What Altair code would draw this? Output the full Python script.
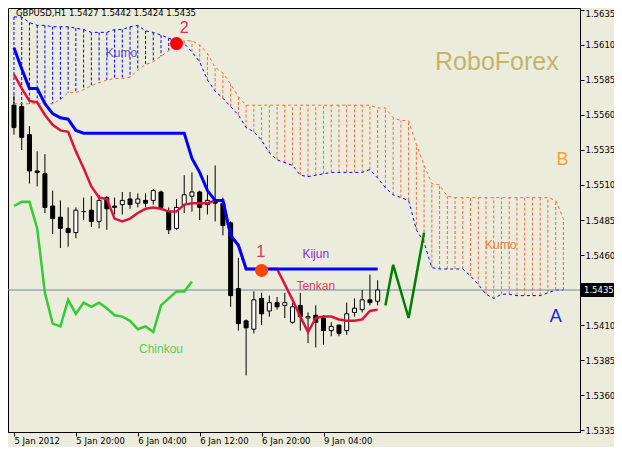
import altair as alt
import pandas as pd

BG = "#ECECDD"
FONT = "Liberation Sans"
AXFONT = "DejaVu Sans"

# ---------------- data ----------------
bars = list(range(48))
c_open = [1.5567, 1.5566, 1.5546, 1.5520, 1.5518, 1.5495, 1.5487, 1.5479, 1.5476, 1.5491,
          1.5492, 1.5484, 1.5501, 1.5495, 1.5496, 1.5500, 1.5497, 1.5499, 1.5499, 1.5505,
          1.5491, 1.5479, 1.5496, 1.5502, 1.5505, 1.5496, 1.5499, 1.5497, 1.5483, 1.5436,
          1.5413, 1.5407, 1.5429, 1.5420, 1.5426, 1.5424, 1.5412, 1.5424, 1.5415, 1.5417,
          1.5415, 1.5406, 1.5410, 1.5406, 1.5419, 1.5421, 1.5428, 1.5427]
c_high = [1.5574, 1.5568, 1.5552, 1.5534, 1.5532, 1.5506, 1.5499, 1.5494, 1.5494, 1.5501,
          1.5502, 1.5503, 1.5502, 1.5501, 1.5505, 1.5505, 1.5504, 1.5504, 1.5507, 1.5506,
          1.5494, 1.5500, 1.5517, 1.5519, 1.5506, 1.5517, 1.5524, 1.5501, 1.5484, 1.5458,
          1.5414, 1.5434, 1.5433, 1.5431, 1.5430, 1.5433, 1.5426, 1.5433, 1.5419, 1.5424,
          1.5417, 1.5412, 1.5410, 1.5426, 1.5429, 1.5435, 1.5446, 1.5442]
c_low = [1.5546, 1.5535, 1.5511, 1.5509, 1.5490, 1.5475, 1.5465, 1.5466, 1.5472, 1.5485,
         1.5480, 1.5479, 1.5478, 1.5489, 1.5489, 1.5493, 1.5494, 1.5494, 1.5496, 1.5492,
         1.5475, 1.5478, 1.5490, 1.5491, 1.5485, 1.5489, 1.5484, 1.5474, 1.5423, 1.5406,
         1.5374, 1.5404, 1.5410, 1.5416, 1.5421, 1.5415, 1.5411, 1.5406, 1.5397, 1.5394,
         1.5396, 1.5402, 1.5402, 1.5403, 1.5416, 1.5419, 1.5424, 1.5424]
c_close = [1.5551, 1.5544, 1.5520, 1.5519, 1.5494, 1.5486, 1.5479, 1.5476, 1.5492, 1.5491,
           1.5484, 1.5499, 1.5493, 1.5494, 1.5499, 1.5496, 1.5500, 1.5497, 1.5506, 1.5494,
           1.5478, 1.5494, 1.5503, 1.5505, 1.5494, 1.5499, 1.5497, 1.5481, 1.5431, 1.5411,
           1.5408, 1.5428, 1.5418, 1.5426, 1.5423, 1.5426, 1.5423, 1.5416, 1.5416, 1.5412,
           1.5406, 1.5409, 1.5404, 1.5418, 1.5422, 1.5428, 1.5426, 1.5435]

tenkan = [1.5589, 1.5579, 1.5570, 1.5569, 1.5560, 1.5553, 1.5549, 1.5548, 1.5534, 1.5522,
          1.5509, 1.5501, 1.5500, 1.5486, 1.5484, 1.5486, 1.5490, 1.5493, 1.5494, 1.5493,
          1.5491, 1.5491, 1.5496, 1.5497, 1.5497, 1.5497, 1.5499, 1.5499, 1.5474, 1.5467,
          1.5450, 1.5450, 1.5450, 1.5450, 1.5450, 1.5439, 1.5428, 1.5416, 1.5405, 1.5415,
          1.5416, 1.5416, 1.5414, 1.5413, 1.5413, 1.5414, 1.5420, 1.5421]
kijun = [1.5608, 1.5593, 1.5579, 1.5579, 1.5568, 1.5561, 1.5558, 1.5557, 1.5549, 1.5547,
         1.5547, 1.5547, 1.5547, 1.5547, 1.5547, 1.5547, 1.5547, 1.5547, 1.5547, 1.5547,
         1.5547, 1.5547, 1.5547, 1.5529, 1.5519, 1.5506, 1.5499, 1.5499, 1.5474, 1.5467,
         1.5450, 1.5450, 1.5450, 1.5450, 1.5450, 1.5450, 1.5450, 1.5450, 1.5450, 1.5450,
         1.5450, 1.5450, 1.5450, 1.5450, 1.5450, 1.5450, 1.5450, 1.5450]
chinkou = [1.5495, 1.5498, 1.5498, 1.5479, 1.5433, 1.5411, 1.5409, 1.5428, 1.5418, 1.5426,
           1.5423, 1.5426, 1.5422, 1.5417, 1.5416, 1.5413, 1.5407, 1.5409, 1.5405, 1.5424,
           1.5429, 1.5434, 1.5434, 1.5441]
senkou_a = [1.5630, 1.5630, 1.5626, 1.5624, 1.5624, 1.5623, 1.5623, 1.5623, 1.5622, 1.5621,
            1.5619, 1.5619, 1.5619, 1.5621, 1.5621, 1.5623, 1.5624, 1.5620, 1.5619, 1.5617,
            1.5615, 1.5612, 1.5611, 1.5605, 1.5598, 1.5585, 1.5577, 1.5572, 1.5566, 1.5560,
            1.5551, 1.5548, 1.5542, 1.5533, 1.5528, 1.5526, 1.5524, 1.5517, 1.5516, 1.5517,
            1.5518, 1.5519, 1.5519, 1.5519, 1.5519, 1.5519, 1.5521, 1.5515, 1.5508, 1.5503,
            1.5501, 1.5499, 1.5478, 1.5469, 1.5451, 1.5450, 1.5450, 1.5450, 1.5450, 1.5445,
            1.5439, 1.5432, 1.5429, 1.5432, 1.5432, 1.5431, 1.5431, 1.5431, 1.5431, 1.5433,
            1.5435, 1.5435]
senkou_b = [1.5568, 1.5568, 1.5568, 1.5568, 1.5568, 1.5568, 1.5571, 1.5576, 1.5576, 1.5578,
            1.5581, 1.5583, 1.5585, 1.5586, 1.5586, 1.5587, 1.5592, 1.5596, 1.5598, 1.5602,
            1.5606, 1.5611, 1.5613, 1.5613, 1.5610, 1.5604, 1.5594, 1.5590, 1.5582, 1.5573,
            1.5567, 1.5567, 1.5567, 1.5567, 1.5567, 1.5567, 1.5567, 1.5567, 1.5567, 1.5567,
            1.5567, 1.5567, 1.5567, 1.5567, 1.5567, 1.5567, 1.5567, 1.5565, 1.5565, 1.5558,
            1.5556, 1.5556, 1.5539, 1.5524, 1.5511, 1.5510, 1.5502, 1.5501, 1.5501, 1.5501,
            1.5501, 1.5501, 1.5501, 1.5501, 1.5501, 1.5501, 1.5501, 1.5501, 1.5501, 1.5501,
            1.5499, 1.5486]

forecast_k = [48, 49, 51, 53]
forecast_p = [1.5424, 1.5453, 1.5415, 1.5476]

points_k = [32, 21]
points_p = [1.5449, 1.5611]
points_col = ["#FF4500", "#FF0000"]

price_ticks = [1.5335, 1.5360, 1.5385, 1.5410, 1.5435, 1.5460, 1.5485,
               1.5510, 1.5535, 1.5560, 1.5585, 1.5610, 1.5635]
tick_pos = [0, 8, 16, 24, 32, 40]
tick_labels = ["5 Jan 2012", "5 Jan 20:00", "6 Jan 04:00", "6 Jan 12:00",
               "6 Jan 20:00", "9 Jan 04:00"]
last_close = 1.5435

ann_text = ["Kumo", "RoboForex", "B", "Kumo", "Kijun", "Tenkan", "Chinkou", "A", "1", "2"]
ann_k = [13.9, 62.4, 70.9, 62.9, 39.0, 39.0, 19.0, 70.0, 31.9, 22.0]
ann_p = [1.5604, 1.5598, 1.5528, 1.5467, 1.5461, 1.5438, 1.5393, 1.5416, 1.5462, 1.5622]
ann_col = ["#6A4FD8", "#C3B46A", "#F5A030", "#E8803C", "#8A2BE2", "#DC3C5A",
           "#55CC55", "#1E1EE6", "#DC3C5A", "#DC2D5A"]
ann_size = [12, 25, 18, 12, 12, 12, 12, 18, 17, 16]

title_text = "GBPUSD,H1  1.5427 1.5442 1.5424 1.5435"

# ---------------- scales ----------------
W, H = 572, 424
Y_TOP = 1.56364
Y_BOT = 1.53336

# ---------------- tables ----------------
candles = pd.DataFrame({"k": bars, "open": c_open, "high": c_high,
                        "low": c_low, "close": c_close})
candles["fill"] = ["white" if c >= o else "black" for o, c in zip(c_open, c_close)]
lines = pd.DataFrame({"k": bars, "tenkan": tenkan, "kijun": kijun})
chink = pd.DataFrame({"k": list(range(len(chinkou))), "chinkou": chinkou})
cloud = pd.DataFrame({"k": list(range(len(senkou_a))), "a": senkou_a, "b": senkou_b})
cloud["col"] = ["#0000FF" if a > b else "#F26B3A" for a, b in zip(senkou_a, senkou_b)]
fc = pd.DataFrame({"k": forecast_k, "p": forecast_p})
pts = pd.DataFrame({"k": points_k, "p": points_p, "col": points_col})
ann = pd.DataFrame({"k": ann_k, "p": ann_p, "t": ann_text, "col": ann_col, "s": ann_size})
last = pd.DataFrame({"p": [last_close], "top": [last_close + 0.0005],
                     "bot": [last_close - 0.0005], "t": [f"{last_close:.4f}"]})
ttl = pd.DataFrame({"k": [-0.125], "p": [Y_TOP], "t": [title_text]})

xscale = alt.Scale(domain=[-0.125, 72.5], nice=False, zero=False)
yscale = alt.Scale(domain=[Y_BOT, Y_TOP], nice=False, zero=False)
label_expr = "[" + ",".join(f"'{t}'" for t in tick_labels) + "][round(datum.value/8)]"
xaxis = alt.Axis(values=tick_pos, labelExpr=label_expr, title=None, grid=False,
                 labelAlign="left", labelPadding=0, tickSize=4, labelFlush=False,
                 labelOverlap=False, orient="bottom")
yaxis = alt.Axis(values=price_ticks, format=".4f", title=None, grid=False,
                 orient="right", tickSize=4, labelPadding=1, labelOverlap=False,
                 labelFlush=False,
                 labelBaseline={"condition": {"test": f"datum.value > {price_ticks[-1] - 0.0001}",
                                              "value": "top"},
                                "value": "middle"})


def X(f):
    return alt.X(f"{f}:Q", scale=xscale, axis=xaxis)


def Y(f):
    return alt.Y(f"{f}:Q", scale=yscale, axis=yaxis)


hatch = alt.Chart(cloud).mark_rule(strokeWidth=1, strokeDash=[3, 2]).encode(
    x=X("k"), y=Y("a"), y2="b", color=alt.Color("col:N", scale=None))
line_a = alt.Chart(cloud).mark_line(color="#0000FF", strokeWidth=1, strokeDash=[3, 3]).encode(
    x=X("k"), y=Y("a"))
line_b = alt.Chart(cloud).mark_line(color="#F26B3A", strokeWidth=1, strokeDash=[3, 3]).encode(
    x=X("k"), y=Y("b"))
pline = alt.Chart(last).mark_rule(color="#778899", strokeWidth=1).encode(y=Y("p"))
chink_line = alt.Chart(chink).mark_line(color="#32CD32", strokeWidth=2.5).encode(
    x=X("k"), y=Y("chinkou"))
wicks = alt.Chart(candles).mark_rule(color="black", strokeWidth=1).encode(
    x=X("k"), y=Y("low"), y2="high")
bodies = alt.Chart(candles).mark_bar(size=4, stroke="black", strokeWidth=1).encode(
    x=X("k"), y=Y("open"), y2="close", fill=alt.Fill("fill:N", scale=None))
tenkan_line = alt.Chart(lines).mark_line(color="#DC143C", strokeWidth=2.5).encode(
    x=X("k"), y=Y("tenkan"))
kijun_line = alt.Chart(lines).mark_line(color="#0000FF", strokeWidth=3).encode(
    x=X("k"), y=Y("kijun"))
fc_line = alt.Chart(fc).mark_line(color="#008000", strokeWidth=2.5).encode(
    x=X("k"), y=Y("p"))
dots = alt.Chart(pts).mark_circle(size=170, opacity=1).encode(
    x=X("k"), y=Y("p"), color=alt.Color("col:N", scale=None))
texts = alt.Chart(ann).mark_text(font=FONT, align="center", baseline="middle").encode(
    x=X("k"), y=Y("p"), text="t:N", color=alt.Color("col:N", scale=None),
    size=alt.Size("s:Q", scale=None))
title = alt.Chart(ttl).mark_text(font=AXFONT, fontSize=8.5, align="left", baseline="top",
                                 dx=3, dy=1, color="black").encode(
    x=X("k"), y=Y("p"), text="t:N")
box = alt.Chart(last).mark_rect(color="black").encode(
    x=alt.value(W + 1), x2=alt.value(W + 34), y=Y("top"), y2="bot")
box_txt = alt.Chart(last).mark_text(font=AXFONT, fontSize=8.5, align="left", baseline="middle",
                                    color="white").encode(x=alt.value(W + 4), y=Y("p"), text="t:N")

chart = alt.layer(
    hatch, line_a, line_b, pline, chink_line, wicks, bodies, tenkan_line, kijun_line,
    fc_line, dots, texts, title, box, box_txt
).properties(
    width=W, height=H,
    autosize=alt.AutoSizeParams(type="none"),
    padding={"left": 0, "top": 0, "right": 34, "bottom": 15},
    background=BG,
).configure_view(
    stroke="black", strokeWidth=1, fill=BG
).configure_axis(
    labelFont=AXFONT, labelFontSize=8.5, labelColor="black", tickColor="black",
    domainColor="black", domainWidth=1, tickWidth=1
)

chart.save("out.html", embed_options={"renderer": "svg", "actions": False})
